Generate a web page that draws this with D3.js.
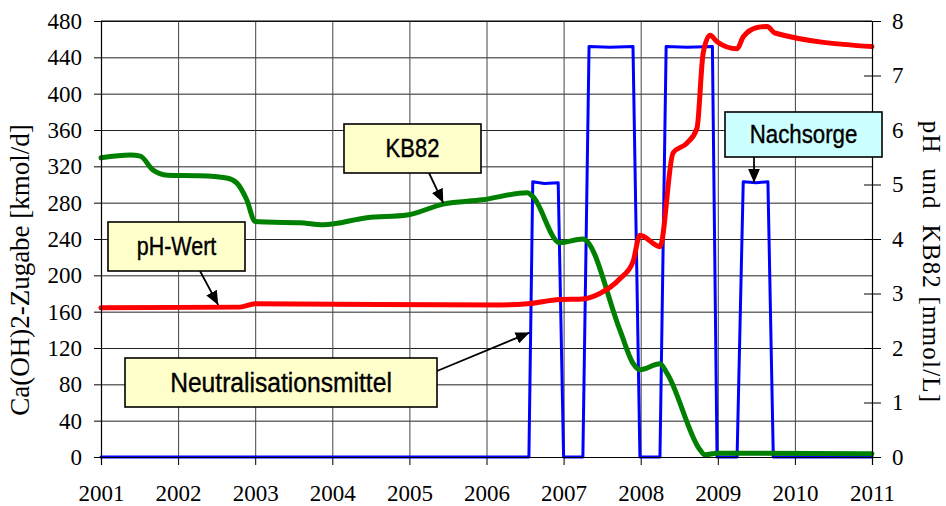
<!DOCTYPE html>
<html>
<head>
<meta charset="utf-8">
<script src="https://cdn.jsdelivr.net/npm/d3@7"></script>
<style>
  body { margin: 0; background: #fff; }
  text { white-space: pre; }
</style>
</head>
<body>
<div id="chart"></div>
<script>
// Neutralisationsmittel (left axis, kmol/d)
var neutYears  = [2001.0, 2006.55, 2006.60, 2006.75, 2006.93, 2007.0, 2007.25, 2007.33, 2007.6, 2007.9, 2007.99, 2008.25, 2008.33, 2008.6, 2008.93, 2008.99, 2009.25, 2009.33, 2009.5, 2009.65, 2009.72, 2011.0];
var neutValues = [0, 0, 303, 301, 302, 0, 0, 452, 451, 452, 0, 0, 452, 451, 452, 0, 0, 303, 302, 303, 0, 0];

// KB82 (right axis, mmol/L)
var kbYears  = [2001.0, 2001.38, 2001.51, 2001.67, 2001.86, 2002.28, 2002.63, 2002.76, 2002.89, 2003.0, 2003.15, 2003.58, 2003.88, 2004.45, 2004.97, 2005.44, 2005.95, 2006.53, 2006.60, 2006.95, 2007.25, 2007.73, 2007.90, 2007.99, 2008.25, 2008.34, 2008.77, 2008.83, 2008.99, 2011.0];
var kbValues = [5.49, 5.54, 5.52, 5.27, 5.17, 5.16, 5.12, 5.03, 4.72, 4.32, 4.31, 4.30, 4.26, 4.39, 4.44, 4.64, 4.72, 4.85, 4.78, 3.93, 4.00, 2.33, 1.72, 1.60, 1.71, 1.54, 0.13, 0.04, 0.07, 0.06];

// pH-Wert (right axis)
var phYears  = [2001.0, 2002.80, 2003.0, 2006.18, 2006.53, 2006.95, 2007.25, 2007.47, 2007.73, 2007.90, 2007.99, 2008.25, 2008.42, 2008.60, 2008.73, 2008.81, 2008.90, 2008.99, 2009.25, 2009.33, 2009.51, 2009.64, 2009.74, 2011.0];
var phValues = [2.74, 2.75, 2.81, 2.79, 2.81, 2.89, 2.90, 3.00, 3.27, 3.58, 4.07, 3.86, 5.58, 5.76, 6.03, 7.41, 7.74, 7.62, 7.49, 7.71, 7.88, 7.90, 7.78, 7.53];

// tick labels
var yearTicks  = [2001, 2002, 2003, 2004, 2005, 2006, 2007, 2008, 2009, 2010, 2011];
var leftTicks  = [0, 40, 80, 120, 160, 200, 240, 280, 320, 360, 400, 440, 480];
var rightTicks = [0, 1, 2, 3, 4, 5, 6, 7, 8];

var margin = { top: 21, right: 74, bottom: 49, left: 101 },
    width = 946 - margin.left - margin.right,
    height = 506 - margin.top - margin.bottom;

var svg = d3.select("#chart")
  .append("svg")
  .attr("width", 946)
  .attr("height", 506)
  .append("g")
  .attr("transform", `translate(${margin.left}, ${margin.top})`);

var x = d3.scaleLinear().domain([2001, 2011]).range([0, width]);
var yL = d3.scaleLinear().domain([0, 480]).range([height, 0]);
var yR = d3.scaleLinear().domain([0, 8]).range([height, 0]);

var serif = "'Liberation Serif', 'Times New Roman', serif";

// gridlines
svg.append("g")
  .call(d3.axisLeft(yL).tickValues(leftTicks).tickSize(-width).tickFormat(""))
  .call(g => g.select(".domain").remove())
  .selectAll("line").attr("stroke", "#222").attr("stroke-width", 1);
svg.append("g")
  .attr("transform", `translate(0, ${height})`)
  .call(d3.axisBottom(x).tickValues(yearTicks).tickSize(-height).tickFormat(""))
  .call(g => g.select(".domain").remove())
  .selectAll("line").attr("stroke", "#444").attr("stroke-width", 1);

// series
function series(xs, vs, scale, color, w, curve) {
  var pts = xs.map((d, i) => [d, vs[i]]);
  svg.append("path")
    .datum(pts)
    .attr("fill", "none")
    .attr("stroke", color)
    .attr("stroke-width", w)
    .attr("stroke-linejoin", "round")
    .attr("stroke-linecap", "round")
    .attr("d", d3.line().x(d => x(d[0])).y(d => scale(d[1])).curve(curve));
}
series(neutYears, neutValues, yL, "#0000ff", 3, d3.curveLinear);
series(kbYears, kbValues, yR, "#008000", 5, d3.curveMonotoneX);
series(phYears, phValues, yR, "#ff0000", 5, d3.curveMonotoneX);

// axes
var leftAxis = svg.append("g")
  .call(d3.axisLeft(yL).tickValues(leftTicks).tickSize(7).tickPadding(12));
var rightAxis = svg.append("g")
  .attr("transform", `translate(${width}, 0)`)
  .call(d3.axisRight(yR).tickValues(rightTicks).tickSize(9).tickPadding(11));
rightAxis.selectAll(".tick line").attr("x1", -8);
var bottomAxis = svg.append("g")
  .attr("transform", `translate(0, ${height})`)
  .call(d3.axisBottom(x).tickValues(yearTicks).tickFormat(d3.format("d")).tickSize(8).tickPadding(20));
[leftAxis, rightAxis, bottomAxis].forEach(function(a) {
  a.select(".domain").attr("stroke", "#000").attr("stroke-width", 1.2);
  a.selectAll(".tick line").attr("stroke", "#000");
  a.selectAll("text").style("font-family", serif).style("font-size", "23px").attr("fill", "#000");
});
svg.append("line").attr("x1", 0).attr("x2", width).attr("y1", 0).attr("y2", 0).attr("stroke", "#000");

// axis titles
svg.append("text")
  .attr("transform", `translate(${20 - margin.left}, ${270 - margin.top}) rotate(-90)`)
  .attr("text-anchor", "middle")
  .attr("dominant-baseline", "central")
  .style("font-family", serif).style("font-size", "27px")
  .text("Ca(OH)2-Zugabe [kmol/d]");
svg.append("text")
  .attr("transform", `translate(${931 - margin.left}, ${262 - margin.top}) rotate(90)`)
  .attr("text-anchor", "middle")
  .attr("dominant-baseline", "central")
  .style("font-family", serif).style("font-size", "25px")
  .style("letter-spacing", "1.2px")
  .text("pH  und  KB82 [mmol/L]");

// annotation boxes with arrows
svg.append("defs").append("marker")
  .attr("id", "head")
  .attr("markerUnits", "userSpaceOnUse")
  .attr("viewBox", "0 -6 14 12")
  .attr("refX", 14).attr("refY", 0)
  .attr("markerWidth", 14).attr("markerHeight", 12)
  .attr("orient", "auto")
  .append("path").attr("d", "M0,-6L14,0L0,6Z").attr("fill", "#000");

var notes = [
  { text: "pH-Wert", x0: 108, y0: 222, x1: 245, y1: 271, fill: "#ffffcc", size: 25, k: 0.86,
    from: [200, 271], to: [x(2002.52) + margin.left, yR(2.79) + margin.top] },
  { text: "KB82", x0: 344, y0: 124, x1: 481, y1: 173, fill: "#ffffcc", size: 25, k: 0.88,
    from: [429, 173], to: [x(2005.44) + margin.left, yR(4.66) + margin.top] },
  { text: "Neutralisationsmittel", x0: 125, y0: 358, x1: 437, y1: 407, fill: "#ffffcc", size: 28, k: 0.88,
    from: [437, 371], to: [x(2006.56) + margin.left, yL(137) + margin.top] },
  { text: "Nachsorge", x0: 725, y0: 112, x1: 882, y1: 157, fill: "#ccffff", size: 25, k: 0.89,
    from: [754, 157], to: [x(2009.47) + margin.left, yL(302) + margin.top] }
];

var ann = d3.select("svg").append("g");
notes.forEach(function(n) {
  ann.append("line")
    .attr("x1", n.from[0]).attr("y1", n.from[1])
    .attr("x2", n.to[0]).attr("y2", n.to[1])
    .attr("stroke", "#000").attr("stroke-width", 1.8)
    .attr("marker-end", "url(#head)");
  ann.append("rect")
    .attr("x", n.x0).attr("y", n.y0)
    .attr("width", n.x1 - n.x0).attr("height", n.y1 - n.y0)
    .attr("fill", n.fill).attr("stroke", "#000").attr("stroke-width", 1.6);
  var cx = (n.x0 + n.x1) / 2, cy = (n.y0 + n.y1) / 2;
  ann.append("text")
    .attr("transform", `translate(${cx}, ${cy}) scale(${n.k}, 1)`)
    .attr("text-anchor", "middle")
    .attr("dominant-baseline", "central")
    .style("font-family", "'Liberation Sans', Arial, sans-serif")
    .style("font-size", n.size + "px")
    .attr("stroke", "#000").attr("stroke-width", 0.4)
    .text(n.text);
});
</script>
</body>
</html>
